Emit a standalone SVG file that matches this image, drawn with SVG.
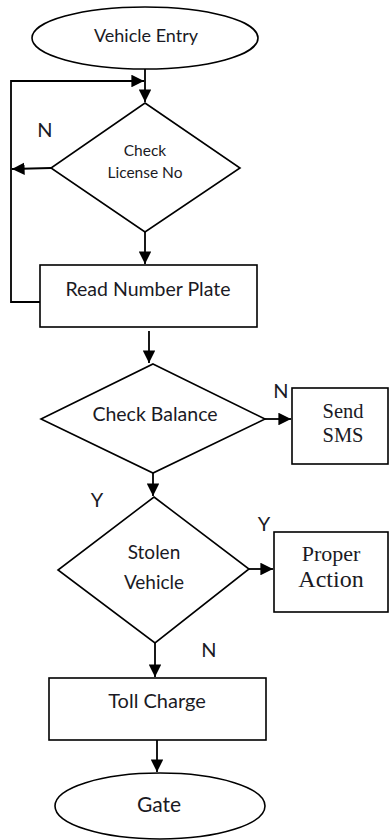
<svg xmlns="http://www.w3.org/2000/svg" width="390" height="840" viewBox="0 0 390 840">
<style>
.s{fill:#fff;stroke:#000;stroke-width:1.6}
.c{fill:none;stroke:#000;stroke-width:1.8}
.t{font-family:Lato,"Liberation Sans",sans-serif;fill:#1a1a24;text-anchor:middle}
.r{font-family:"Liberation Serif",serif;fill:#1a1a24;text-anchor:middle}
</style>
<defs>
<marker id="a" viewBox="0 0 10 10" refX="10" refY="5" markerWidth="7" markerHeight="7" markerUnits="strokeWidth" orient="auto">
<path d="M0,0L10,5L0,10z" fill="#000"/>
</marker>
</defs>
<rect width="390" height="840" fill="#fff"/>
<g id="connectors">
<line class="c" x1="145" y1="69" x2="145" y2="102" marker-end="url(#a)"/>
<polyline class="c" points="40,302 11,302 11,81 144,81" marker-end="url(#a)"/>
<line class="c" x1="51" y1="168" x2="12" y2="169" marker-end="url(#a)"/>
<line class="c" x1="145" y1="232" x2="145" y2="264" marker-end="url(#a)"/>
<line class="c" x1="149" y1="331" x2="149" y2="363" marker-end="url(#a)"/>
<line class="c" x1="265" y1="419" x2="291" y2="419" marker-end="url(#a)"/>
<line class="c" x1="153" y1="473" x2="153" y2="496" marker-end="url(#a)"/>
<line class="c" x1="249" y1="569" x2="273" y2="569" marker-end="url(#a)"/>
<line class="c" x1="155" y1="643" x2="155" y2="677" marker-end="url(#a)"/>
<line class="c" x1="157" y1="740" x2="157" y2="772" marker-end="url(#a)"/>
<text class="t" x="45" y="137" font-size="20">N</text>
<text class="t" x="281" y="398" font-size="20">N</text>
<text class="t" x="97" y="507" font-size="20">Y</text>
<text class="t" x="264" y="531" font-size="20">Y</text>
<text class="t" x="209" y="657" font-size="20">N</text>
</g>
<g id="vehicle-entry">
<ellipse class="s" cx="145" cy="38" rx="113" ry="31"/>
<text class="t" x="146" y="42" font-size="18">Vehicle Entry</text>
</g>
<g id="check-license">
<polygon class="s" points="145,103 240,168 145,232 51,168"/>
<text class="t" x="145" y="156" font-size="15.5">Check</text>
<text class="t" x="145" y="178" font-size="15.5">License No</text>
</g>
<g id="read-plate">
<rect class="s" x="40" y="265" width="217" height="62"/>
<text class="t" x="148" y="296" font-size="19.5">Read Number Plate</text>
</g>
<g id="check-balance">
<polygon class="s" points="153,364 265,419 153,473 41,419"/>
<text class="t" x="155" y="421" font-size="19.5">Check Balance</text>
</g>
<g id="send-sms">
<rect class="s" x="292" y="388" width="96" height="76"/>
<text class="r" x="343" y="418" font-size="20.5">Send</text>
<text class="r" x="343" y="442" font-size="20.5">SMS</text>
</g>
<g id="stolen-vehicle">
<polygon class="s" points="154,497 249,569 155,643 58,570"/>
<text class="t" x="154" y="559" font-size="19">Stolen</text>
<text class="t" x="154" y="589" font-size="19">Vehicle</text>
</g>
<g id="proper-action">
<rect class="s" x="274" y="532" width="114" height="80"/>
<text class="r" x="331" y="561" font-size="22">Proper</text>
<text class="r" x="331" y="587" font-size="24">Action</text>
</g>
<g id="toll-charge">
<rect class="s" x="49" y="678" width="217" height="62"/>
<text class="t" x="157" y="708" font-size="20">Toll Charge</text>
</g>
<g id="gate">
<ellipse class="s" cx="160" cy="806" rx="105" ry="33"/>
<text class="t" x="159" y="812" font-size="21">Gate</text>
</g>
</svg>
